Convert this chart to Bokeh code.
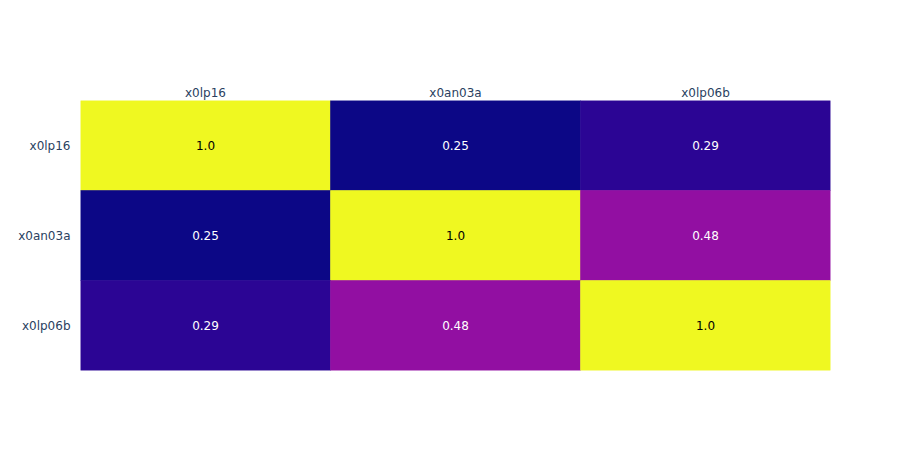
from bokeh.plotting import figure
from bokeh.models import ColumnDataSource, LinearColorMapper
from bokeh.palettes import Plasma256
from bokeh.transform import transform
from bokeh.core.properties import value
from bokeh.embed import file_html
from bokeh.resources import INLINE

# data
variables = ["x0lp16", "x0an03a", "x0lp06b"]
corr_rows = [
    [1.0, 0.25, 0.29],
    [0.25, 1.0, 0.48],
    [0.29, 0.48, 1.0],
]

xs, ys, vals, labels, tcolors = [], [], [], [], []
for i, rname in enumerate(variables):
    for j, cname in enumerate(variables):
        v = corr_rows[i][j]
        xs.append(cname)
        ys.append(rname)
        vals.append(v)
        labels.append("1.0" if v == 1.0 else f"{v:.2f}")
        tcolors.append("black" if v > 0.7 else "white")

src = ColumnDataSource(dict(x=xs, y=ys, v=vals, label=labels, tc=tcolors))

allv = [v for r in corr_rows for v in r]
mapper = LinearColorMapper(palette=Plasma256, low=min(allv), high=max(allv))

FONT = "DejaVu Sans"
W, H = 900, 450
p = figure(width=W, height=H, x_range=variables, y_range=list(reversed(variables)),
           x_axis_location="above", output_backend="svg", toolbar_location=None,
           min_border_left=80, min_border_right=70, min_border_top=100, min_border_bottom=80)
p.rect(x="x", y="y", width=1, height=1, source=src,
       fill_color=transform("v", mapper), line_color=transform("v", mapper), line_width=0.6)
p.text(x="x", y="y", text="label", source=src, text_color="tc",
       text_align="center", text_baseline="middle",
       text_font=value(FONT), text_font_size="12px")

p.outline_line_color = None
p.grid.grid_line_color = None
p.background_fill_color = "white"
for ax in (p.xaxis, p.yaxis):
    ax.axis_line_color = None
    ax.major_tick_line_color = None
    ax.minor_tick_line_color = None
    ax.major_tick_out = 0
    ax.major_tick_in = 0
    ax.major_label_text_font = FONT
    ax.major_label_text_font_size = "12px"
    ax.major_label_text_color = "#2a3f5f"
p.xaxis.major_label_standoff = 1
p.yaxis.major_label_standoff = 10

open("out.html", "w").write(file_html(p, INLINE))
